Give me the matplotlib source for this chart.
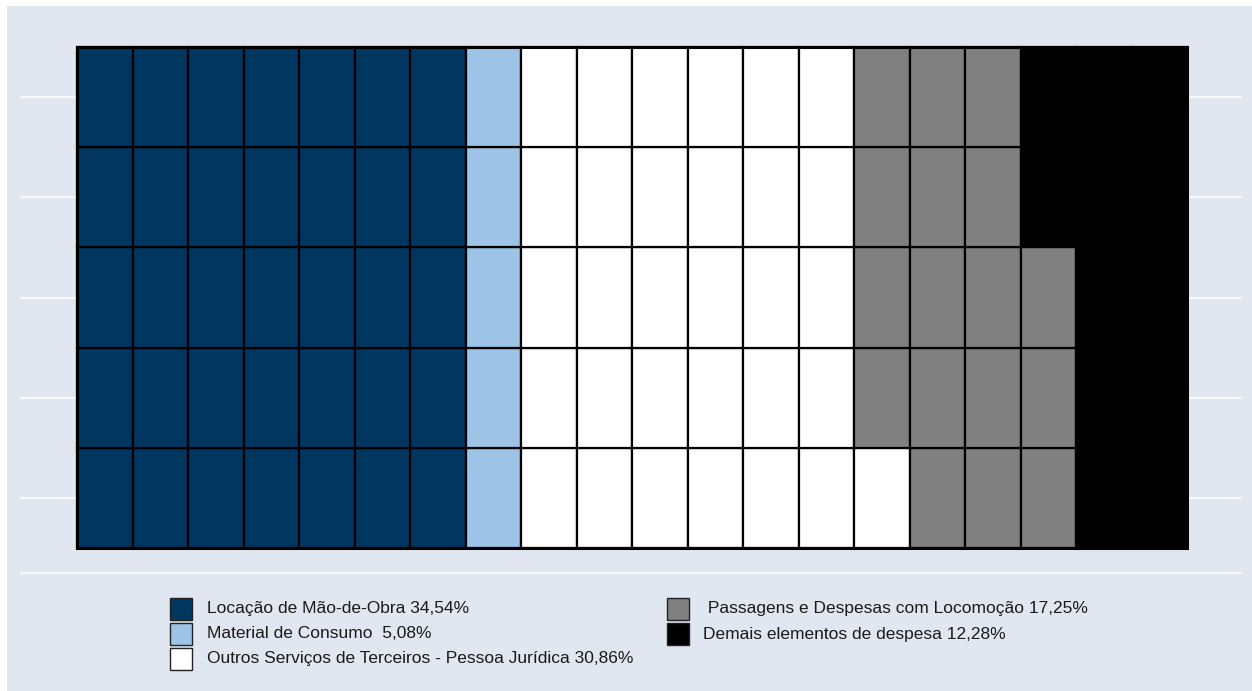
import matplotlib
matplotlib.use("Agg")
import matplotlib.pyplot as plt
from matplotlib.patches import Rectangle

plt.rcParams["font.family"] = ["Liberation Sans", "DejaVu Sans"]

# Data: waffle counts (out of 100 cells) and legend labels
labels = [
    "Locação de Mão-de-Obra 34,54%",
    "Material de Consumo  5,08%",
    "Outros Serviços de Terceiros - Pessoa Jurídica 30,86%",
    " Passagens e Despesas com Locomoção 17,25%",
    "Demais elementos de despesa 12,28%",
]
counts = [35, 5, 31, 17, 12]
colors = ["#003660", "#9DC3E6", "#FFFFFF", "#808080", "#000000"]

N_ROWS = 5
N_COLS = 20
BG = "#E1E7F0"

W, H = 1252, 691
fig = plt.figure(figsize=(W / 100, H / 100), dpi=100)
fig.patch.set_facecolor("white")

# background panel (pixel coordinates)
bg = fig.add_axes([0, 0, 1, 1])
bg.set_xlim(0, W)
bg.set_ylim(H, 0)
bg.axis("off")
bg.add_patch(Rectangle((7, 6), W - 7, H - 6, facecolor=BG, edgecolor="none"))
bg.plot([21, 1241], [573, 573], color="white", lw=1.2)

# waffle axes
ax = fig.add_axes([77 / W, 1 - 548 / H, (1187 - 77) / W, (548 - 47) / H])
ax.set_xlim(0, N_COLS)
ax.set_ylim(0, N_ROWS)
ax.axis("off")

# horizontal grid lines at row centres, extending past the tiles
for r in range(N_ROWS):
    ax.plot([-1.01, 20.97], [r + 0.5, r + 0.5], color="white", lw=1.2,
            clip_on=False, zorder=0)

# fill column by column, bottom to top
cell = 0
for cat, n in enumerate(counts):
    for _ in range(n):
        col, row = divmod(cell, N_ROWS)
        ax.add_patch(Rectangle((col, row), 1, 1, facecolor=colors[cat],
                               edgecolor="black", lw=1.6, zorder=2,
                               clip_on=False))
        cell += 1
ax.add_patch(Rectangle((0, 0), N_COLS, N_ROWS, facecolor="none",
                       edgecolor="black", lw=2.2, zorder=3, clip_on=False))

# legend: first three in left column, last two in right column
col_x = [170, 667]
text_x = [207, 703]
row_y = [598, 623, 648]
for i, (lab, c) in enumerate(zip(labels, colors)):
    k = 0 if i < 3 else 1
    j = i if i < 3 else i - 3
    bg.add_patch(Rectangle((col_x[k], row_y[j]), 22, 22, facecolor=c,
                           edgecolor="#222222", lw=1.0))
    bg.text(text_x[k], row_y[j] + 11, lab, fontsize=12.5, va="center",
            ha="left", color="#1a1a1a")

fig.savefig("out.png", dpi=100, facecolor=fig.get_facecolor())
